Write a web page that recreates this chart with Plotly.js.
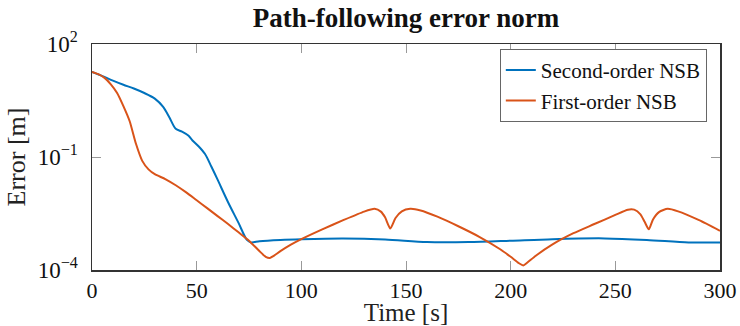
<!DOCTYPE html>
<html>
<head>
<meta charset="utf-8">
<script src="https://cdn.plot.ly/plotly-3.0.1.min.js"></script>
<style>
  html, body { margin: 0; padding: 0; background: #fff; }
  #chart { width: 740px; height: 326px; }
</style>
</head>
<body>
<div id="chart"></div>
<script>
// Time samples [s] and error norms [m] for each controller
const timeSecond = [0, 5, 10, 15, 20, 25, 30, 34, 37, 40, 43, 46, 48, 51, 54, 57, 60, 65, 70, 74, 76, 80, 90, 100, 120, 140, 160, 180, 200, 220, 245, 265, 285, 300];
const errorSecond = [18.2, 14.1, 10.7, 8.3, 6.6, 5.0, 3.55, 2.14, 1.12, 0.56, 0.47, 0.37, 0.275, 0.19, 0.12, 0.056, 0.025, 0.0063, 0.00178, 0.00063, 0.00054, 0.00058, 0.00063, 0.00066, 0.00069, 0.00065, 0.00055, 0.00055, 0.0006, 0.00066, 0.00069, 0.00063, 0.00054, 0.00054];

const timeFirst = [0, 3, 6, 9, 12, 15, 18, 21, 24, 27, 30, 35, 40, 45, 50, 55, 60, 65, 70, 75, 80, 83, 85, 87, 90, 95, 100, 110, 120, 130, 135, 138, 140, 142.5, 145, 148, 152, 157, 165, 175, 185, 195, 200, 204, 206, 208, 212, 220, 230, 240, 250, 256, 259, 262, 264, 266, 268, 271, 275, 280, 290, 300];
const errorFirst = [18.2, 15.8, 12.6, 8.5, 5.0, 2.24, 0.89, 0.224, 0.079, 0.047, 0.035, 0.026, 0.0178, 0.0115, 0.0071, 0.0044, 0.0027, 0.00166, 0.0010, 0.0006, 0.000316, 0.000224, 0.000209, 0.00024, 0.000316, 0.00047, 0.00066, 0.0012, 0.0021, 0.00355, 0.0042, 0.00355, 0.0025, 0.00126, 0.0024, 0.0036, 0.0042, 0.0038, 0.0026, 0.00145, 0.00076, 0.000355, 0.000224, 0.000151, 0.000132, 0.000158, 0.00024, 0.00048, 0.00095, 0.00166, 0.0029, 0.0040, 0.0040, 0.0030, 0.0019, 0.0012, 0.0022, 0.0035, 0.0042, 0.0036, 0.0021, 0.0011];

const seriesNames = ['Second-order NSB', 'First-order NSB'];
const yTickVals = [1e-4, 1e-1, 1e2];
const yTickText = ['10<sup>−4</sup>', '10<sup>−1</sup>', '10<sup>2</sup>'];
const xTickVals = [0, 50, 100, 150, 200, 250, 300];

const serif = 'Liberation Serif';

const traces = [
  {
    x: timeSecond, y: errorSecond, name: seriesNames[0],
    type: 'scatter', mode: 'lines',
    line: { color: '#0072BD', width: 2, shape: 'spline', smoothing: 0.8 }
  },
  {
    x: timeFirst, y: errorFirst, name: seriesNames[1],
    type: 'scatter', mode: 'lines',
    line: { color: '#D95319', width: 2, shape: 'spline', smoothing: 0.6 }
  }
];

const layout = {
  width: 740, height: 326,
  margin: { l: 92, r: 20, t: 44, b: 56 },
  paper_bgcolor: '#fff', plot_bgcolor: '#fff',
  font: { family: serif, color: '#111' },
  showlegend: true,
  title: {
    text: '<b>Path-following error norm</b>',
    font: { family: serif, size: 27, color: '#111' },
    x: 0.5486, xanchor: 'center', y: 0.945, yanchor: 'middle'
  },
  xaxis: {
    range: [0, 300],
    tickmode: 'array', tickvals: xTickVals,
    ticks: 'inside', ticklen: 9, tickwidth: 1, tickcolor: '#999',
    showline: true, linecolor: '#333', linewidth: 1.5, mirror: 'ticks',
    showgrid: false, zeroline: false,
    tickfont: { family: serif, size: 22, color: '#111' },
    title: { text: 'Time [s]', font: { family: serif, size: 25, color: '#222' }, standoff: 4 }
  },
  yaxis: {
    type: 'log', range: [-4, 2],
    tickmode: 'array', tickvals: yTickVals, ticktext: yTickText,
    ticks: 'inside', ticklen: 9, tickwidth: 1, tickcolor: '#999',
    ticklabelstandoff: 8,
    showline: true, linecolor: '#333', linewidth: 1.5, mirror: 'ticks',
    showgrid: false, zeroline: false,
    tickfont: { family: serif, size: 23, color: '#111' },
    title: { text: 'Error [m]', font: { family: serif, size: 26, color: '#222' }, standoff: 4 }
  },
  legend: {
    x: 0.979, xanchor: 'right', y: 0.978, yanchor: 'top',
    bgcolor: '#fff', bordercolor: '#666', borderwidth: 1,
    font: { family: serif, size: 21, color: '#111' },
    tracegroupgap: 0
  }
};

Plotly.newPlot('chart', traces, layout, { displayModeBar: false, staticPlot: true });
</script>
</body>
</html>
